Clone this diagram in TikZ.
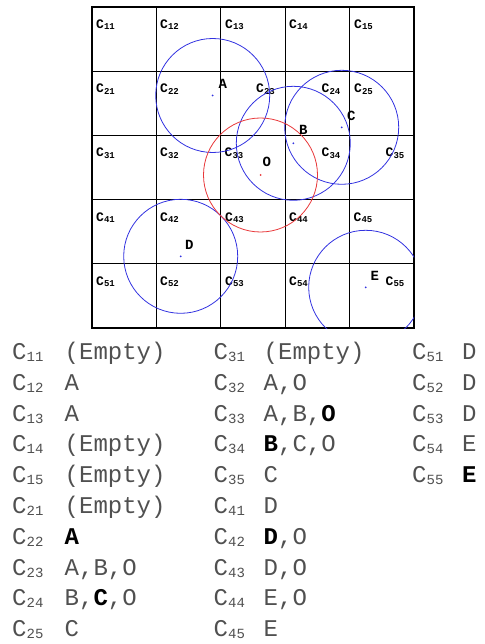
\documentclass[tikz,border=0pt]{standalone}
\usepackage{fontspec}
\setmonofont{Liberation Mono}
\usepackage{tikz}
\usetikzlibrary{positioning}
\definecolor{ringc}{HTML}{3232E0}
\definecolor{ringo}{HTML}{E8383A}
\definecolor{listc}{HTML}{505050}
\tikzset{
  gridl/.style={line width=1.3pt,draw=black},
  ring/.style={draw=ringc,line width=0.8pt},
  oring/.style={draw=ringo,line width=0.8pt},
  dot/.style={circle,fill=ringc,inner sep=0pt,minimum size=2pt},
  odot/.style={dot,fill=ringo},
  ptl/.style={font=\ttfamily\bfseries\fontsize{14}{14}\selectfont,anchor=base west,inner sep=0pt},
  cl/.style={font=\ttfamily\bfseries\fontsize{13}{13}\selectfont,anchor=base west,inner sep=0pt},
  li/.style={font=\ttfamily\fontsize{24}{24}\selectfont,text=listc,anchor=base west,inner sep=0pt},
}
\newcommand{\gname}[1]{C\raisebox{-1.5pt}{\fontsize{9}{9}\selectfont#1}}
\newcommand{\lname}[1]{C\raisebox{-2pt}{\fontsize{14}{14}\selectfont#1}}
\newcommand{\hit}[1]{\textcolor{black}{\textbf{#1}}}

\begin{document}
\begin{tikzpicture}[x=1pt,y=-1pt]
  \useasboundingbox (0,0) rectangle (484,644);
  % grid
  \draw[gridl] (92,7) rectangle (414,328);
  \foreach \i in {1,...,4}{
    \draw[gridl] ({92+64.4*\i},7) -- ({92+64.4*\i},328);
    \draw[gridl] (92,{7+64.2*\i}) -- (414,{7+64.2*\i});
  }
  \foreach \r/\c/\x in {1/1/96,1/2/160,1/3/225,1/4/289,1/5/354,
                        2/1/96,2/2/160,2/3/256,2/4/321.5,2/5/354,
                        3/1/96,3/2/160,3/3/224.5,3/4/321.5,3/5/385.5,
                        4/1/96,4/2/160,4/3/225,4/4/289,4/5/353.5,
                        5/1/96,5/2/160,5/3/225,5/4/289,5/5/385.5}
    \node[cl] (c\r\c) at (\x,{7+64.2*(\r-1)+21.5}) {\gname{\r\c}};
  % points and ranges
  \node[dot] (pA) at (212.7,95.5) {};
  \node[dot] (pB) at (293.3,143.3) {};
  \node[dot] (pC) at (341.7,127.3) {};
  \node[dot] (pD) at (180.7,256.3) {};
  \node[dot] (pE) at (365.7,287.3) {};
  \node[odot] (pO) at (260.5,175) {};
  \begin{scope}
    \clip (92,7) rectangle (414,328);
    \foreach \p in {A,B,C,D,E} \draw[ring] (p\p) circle (57pt);
    \draw[oring] (pO) circle (57pt);
  \end{scope}
  \node[ptl] (lA) at (218.5,89) {A};
  \node[ptl] (lB) at (299,135) {B};
  \node[ptl] (lC) at (347,120.7) {C};
  \node[ptl] (lO) at (262.5,166.7) {O};
  \node[ptl] (lD) at (185,249.3) {D};
  \node[ptl] (lE) at (370.5,280) {E};
  % cell contents
  \foreach \id/\txt [count=\k from 0] in {11/(Empty),12/A,13/A,14/(Empty),15/(Empty),
      21/(Empty),22/\hit{A},23/{A,B,O},24/{B,\hit{C},O},25/C} {
    \node[li] (n\id) at (12,{359.5+30.8*\k}) {\lname{\id}};
    \node[li] (t\id) at (64.5,{359.5+30.8*\k}) {\txt};
  }
  \foreach \id/\txt [count=\k from 0] in {31/(Empty),32/{A,O},33/{A,B,\hit{O}},34/{\hit{B},C,O},35/C,
      41/D,42/{\hit{D},O},43/{D,O},44/{E,O},45/E} {
    \node[li] (n\id) at (213.5,{359.5+30.8*\k}) {\lname{\id}};
    \node[li] (t\id) at (263.5,{359.5+30.8*\k}) {\txt};
  }
  \foreach \id/\txt [count=\k from 0] in {51/D,52/D,53/D,54/E,55/\hit{E}} {
    \node[li] (n\id) at (412,{359.5+30.8*\k}) {\lname{\id}};
    \node[li] (t\id) at (462,{359.5+30.8*\k}) {\txt};
  }
\end{tikzpicture}
\end{document}
